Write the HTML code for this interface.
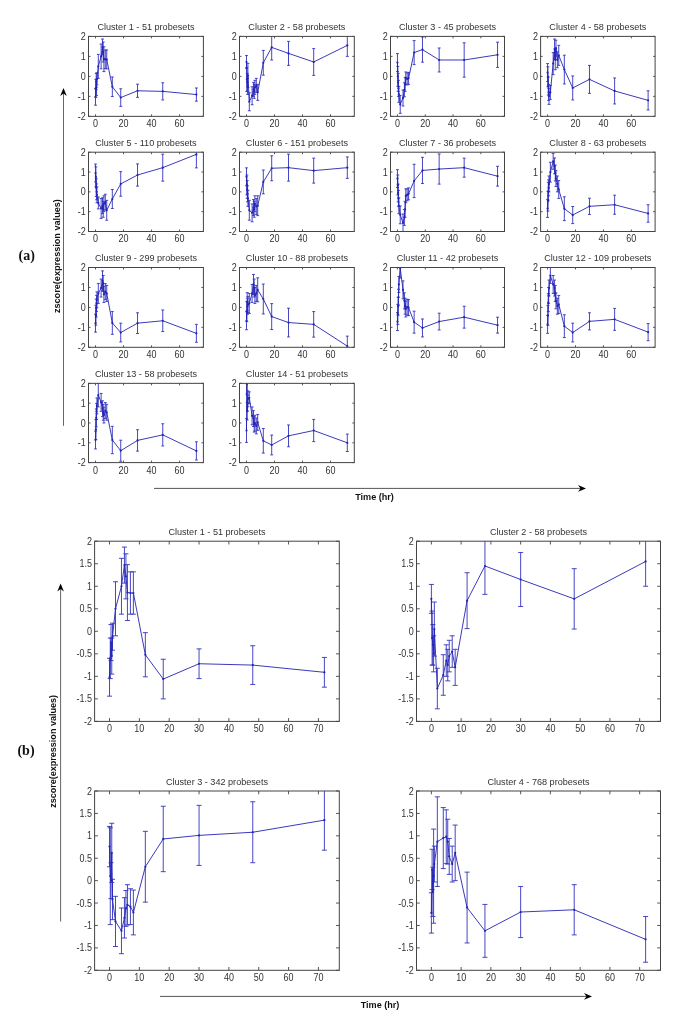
<!DOCTYPE html>
<html><head><meta charset="utf-8"><style>
html,body{margin:0;padding:0;background:#fff;}
svg{display:block;will-change:transform;}
text{font-family:"Liberation Sans",sans-serif;font-size:9.1px;fill:#333;}
text.t{font-size:9px;}
text.b{font-weight:bold;fill:#111;}
text.s{font-family:"Liberation Serif",serif;font-weight:bold;font-size:14px;fill:#111;}
</style></head><body>
<svg width="685" height="1027" viewBox="0 0 685 1027">
<rect width="685" height="1027" fill="#fff"/>
<clipPath id="c88_36"><rect x="88.5" y="36.4" width="114.9" height="79.95"/></clipPath>
<g clip-path="url(#c88_36)" stroke="#2424b4" stroke-width="0.9" fill="none">
<path d="M95.51 88.37V105.16M94.06 88.37H96.96M94.06 105.16H96.96M95.86 79.37V97.36M94.41 79.37H97.31M94.41 97.36H97.31M96.21 73.38V89.37M94.76 73.38H97.66M94.76 89.37H97.66M96.56 79.37V95.36M95.11 79.37H98.01M95.11 95.36H98.01M96.91 72.78V84.77M95.46 72.78H98.36M95.46 84.77H98.36M98.31 54.39V78.37M96.86 54.39H99.76M96.86 78.37H99.76M101.11 44V68.78M99.66 44H102.56M99.66 68.78H102.56M102.51 39V54.99M101.06 39H103.96M101.06 54.99H103.96M103.21 42V61.98M101.76 42H104.66M101.76 61.98H104.66M103.91 46.79V71.58M102.46 46.79H105.36M102.46 71.58H105.36M105.31 49.99V68.78M103.86 49.99H106.76M103.86 68.78H106.76M106.72 49.99V68.78M105.27 49.99H108.17M105.27 68.78H108.17M112.32 76.97V96.56M110.87 76.97H113.77M110.87 96.56H113.77M120.73 88.77V106.36M119.28 88.77H122.18M119.28 106.36H122.18M137.54 84.17V97.36M136.09 84.17H138.99M136.09 97.36H138.99M162.76 82.77V99.96M161.31 82.77H164.21M161.31 99.96H164.21M196.39 87.97V101.16M194.94 87.97H197.84M194.94 101.16H197.84" stroke="#3232c0" stroke-width="0.9"/>
<polyline points="95.51,96.76 95.86,88.37 96.21,81.37 96.56,87.37 96.91,78.77 98.31,66.38 101.11,56.39 102.51,46.99 103.21,51.99 103.91,59.19 105.31,59.39 106.72,59.39 112.32,86.77 120.73,97.56 137.54,90.77 162.76,91.37 196.39,94.56"/>
<path d="M95.51 96.76h0M95.86 88.37h0M96.21 81.37h0M96.56 87.37h0M96.91 78.77h0M98.31 66.38h0M101.11 56.39h0M102.51 46.99h0M103.21 51.99h0M103.91 59.19h0M105.31 59.39h0M106.72 59.39h0M112.32 86.77h0M120.73 97.56h0M137.54 90.77h0M162.76 91.37h0M196.39 94.56h0" stroke-width="2.2" stroke-linecap="round"/>
</g>
<path d="M95.51 116.35v-2M95.51 36.4v2M123.53 116.35v-2M123.53 36.4v2M151.55 116.35v-2M151.55 36.4v2M179.58 116.35v-2M179.58 36.4v2M88.5 116.35h2M203.4 116.35h-2M88.5 96.36h2M203.4 96.36h-2M88.5 76.38h2M203.4 76.38h-2M88.5 56.39h2M203.4 56.39h-2M88.5 36.4h2M203.4 36.4h-2" stroke="#444" stroke-width="0.9" fill="none"/>
<rect x="88.5" y="36.4" width="114.9" height="79.95" stroke="#444" stroke-width="1" fill="none"/>
<text transform="translate(95.51 127.25) scale(1 1.12)" text-anchor="middle" class="t">0</text>
<text transform="translate(123.53 127.25) scale(1 1.12)" text-anchor="middle" class="t">20</text>
<text transform="translate(151.55 127.25) scale(1 1.12)" text-anchor="middle" class="t">40</text>
<text transform="translate(179.58 127.25) scale(1 1.12)" text-anchor="middle" class="t">60</text>
<text transform="translate(85.8 119.9) scale(1 1.12)" text-anchor="end" class="t">-2</text>
<text transform="translate(85.8 99.91) scale(1 1.12)" text-anchor="end" class="t">-1</text>
<text transform="translate(85.8 79.92) scale(1 1.12)" text-anchor="end" class="t">0</text>
<text transform="translate(85.8 59.94) scale(1 1.12)" text-anchor="end" class="t">1</text>
<text transform="translate(85.8 39.95) scale(1 1.12)" text-anchor="end" class="t">2</text>
<text x="145.95" y="30.1" text-anchor="middle">Cluster 1 - 51 probesets</text>
<clipPath id="c239_36"><rect x="239.5" y="36.4" width="114.8" height="79.95"/></clipPath>
<g clip-path="url(#c239_36)" stroke="#2424b4" stroke-width="0.9" fill="none">
<path d="M246.5 55.59V68.38M245.05 55.59H247.95M245.05 68.38H247.95M246.85 67.38V91.37M245.4 67.38H248.3M245.4 91.37H248.3M247.2 73.38V91.37M245.75 73.38H248.65M245.75 91.37H248.65M247.55 78.37V94.36M246.1 78.37H249M246.1 94.36H249M247.9 63.38V87.37M246.45 63.38H249.35M246.45 87.37H249.35M249.3 92.76V110.75M247.85 92.76H250.75M247.85 110.75H250.75M252.1 86.77V104.76M250.65 86.77H253.55M250.65 104.76H253.55M253.5 82.37V96.36M252.05 82.37H254.95M252.05 96.36H254.95M254.2 84.37V98.36M252.75 84.37H255.65M252.75 98.36H255.65M254.9 80.37V94.36M253.45 80.37H256.35M253.45 94.36H256.35M256.3 78.37V92.36M254.85 78.37H257.75M254.85 92.36H257.75M257.7 84.37V100.36M256.25 84.37H259.15M256.25 100.36H259.15M263.3 50.39V75.18M261.85 50.39H264.75M261.85 75.18H264.75M271.7 34.8V59.99M270.25 34.8H273.15M270.25 59.99H273.15M288.5 41.4V65.38M287.05 41.4H289.95M287.05 65.38H289.95M313.7 48.59V75.38M312.25 48.59H315.15M312.25 75.38H315.15M347.3 34.4V56.39M345.85 34.4H348.75M345.85 56.39H348.75" stroke="#3232c0" stroke-width="0.9"/>
<polyline points="246.5,61.98 246.85,79.37 247.2,82.37 247.55,86.37 247.9,75.38 249.3,101.76 252.1,95.76 253.5,89.37 254.2,91.37 254.9,87.37 256.3,85.37 257.7,92.36 263.3,62.78 271.7,47.39 288.5,53.39 313.7,61.98 347.3,45.39"/>
<path d="M246.5 61.98h0M246.85 79.37h0M247.2 82.37h0M247.55 86.37h0M247.9 75.38h0M249.3 101.76h0M252.1 95.76h0M253.5 89.37h0M254.2 91.37h0M254.9 87.37h0M256.3 85.37h0M257.7 92.36h0M263.3 62.78h0M271.7 47.39h0M288.5 53.39h0M313.7 61.98h0M347.3 45.39h0" stroke-width="2.2" stroke-linecap="round"/>
</g>
<path d="M246.5 116.35v-2M246.5 36.4v2M274.5 116.35v-2M274.5 36.4v2M302.5 116.35v-2M302.5 36.4v2M330.5 116.35v-2M330.5 36.4v2M239.5 116.35h2M354.3 116.35h-2M239.5 96.36h2M354.3 96.36h-2M239.5 76.38h2M354.3 76.38h-2M239.5 56.39h2M354.3 56.39h-2M239.5 36.4h2M354.3 36.4h-2" stroke="#444" stroke-width="0.9" fill="none"/>
<rect x="239.5" y="36.4" width="114.8" height="79.95" stroke="#444" stroke-width="1" fill="none"/>
<text transform="translate(246.5 127.25) scale(1 1.12)" text-anchor="middle" class="t">0</text>
<text transform="translate(274.5 127.25) scale(1 1.12)" text-anchor="middle" class="t">20</text>
<text transform="translate(302.5 127.25) scale(1 1.12)" text-anchor="middle" class="t">40</text>
<text transform="translate(330.5 127.25) scale(1 1.12)" text-anchor="middle" class="t">60</text>
<text transform="translate(236.8 119.9) scale(1 1.12)" text-anchor="end" class="t">-2</text>
<text transform="translate(236.8 99.91) scale(1 1.12)" text-anchor="end" class="t">-1</text>
<text transform="translate(236.8 79.92) scale(1 1.12)" text-anchor="end" class="t">0</text>
<text transform="translate(236.8 59.94) scale(1 1.12)" text-anchor="end" class="t">1</text>
<text transform="translate(236.8 39.95) scale(1 1.12)" text-anchor="end" class="t">2</text>
<text x="296.9" y="30.1" text-anchor="middle">Cluster 2 - 58 probesets</text>
<clipPath id="c390_36"><rect x="390.5" y="36.4" width="114" height="79.95"/></clipPath>
<g clip-path="url(#c390_36)" stroke="#2424b4" stroke-width="0.9" fill="none">
<path d="M397.45 53.59V71.58M396 53.59H398.9M396 71.58H398.9M397.8 66.38V86.37M396.35 66.38H399.25M396.35 86.37H399.25M398.15 73.38V91.37M396.7 73.38H399.6M396.7 91.37H399.6M398.49 80.37V96.36M397.04 80.37H399.94M397.04 96.36H399.94M398.84 86.37V102.36M397.39 86.37H400.29M397.39 102.36H400.29M400.23 95.36V113.35M398.78 95.36H401.68M398.78 113.35H401.68M403.01 89.97V105.96M401.56 89.97H404.46M401.56 105.96H404.46M404.4 82.77V96.76M402.95 82.77H405.85M402.95 96.76H405.85M405.1 77.37V91.37M403.65 77.37H406.55M403.65 91.37H406.55M405.79 71.98V83.97M404.34 71.98H407.24M404.34 83.97H407.24M407.18 72.98V84.97M405.73 72.98H408.63M405.73 84.97H408.63M408.57 72.38V84.37M407.12 72.38H410.02M407.12 84.37H410.02M414.13 40.6V64.58M412.68 40.6H415.58M412.68 64.58H415.58M422.48 37V62.18M421.03 37H423.93M421.03 62.18H423.93M439.16 47.99V71.98M437.71 47.99H440.61M437.71 71.98H440.61M464.18 42.8V77.17M462.73 42.8H465.63M462.73 77.17H465.63M497.55 42.2V67.38M496.1 42.2H499M496.1 67.38H499" stroke="#3232c0" stroke-width="0.9"/>
<polyline points="397.45,62.58 397.8,76.38 398.15,82.37 398.49,88.37 398.84,94.36 400.23,104.36 403.01,97.96 404.4,89.77 405.1,84.37 405.79,77.97 407.18,78.97 408.57,78.37 414.13,52.59 422.48,49.59 439.16,59.99 464.18,59.99 497.55,54.79"/>
<path d="M397.45 62.58h0M397.8 76.38h0M398.15 82.37h0M398.49 88.37h0M398.84 94.36h0M400.23 104.36h0M403.01 97.96h0M404.4 89.77h0M405.1 84.37h0M405.79 77.97h0M407.18 78.97h0M408.57 78.37h0M414.13 52.59h0M422.48 49.59h0M439.16 59.99h0M464.18 59.99h0M497.55 54.79h0" stroke-width="2.2" stroke-linecap="round"/>
</g>
<path d="M397.45 116.35v-2M397.45 36.4v2M425.26 116.35v-2M425.26 36.4v2M453.06 116.35v-2M453.06 36.4v2M480.87 116.35v-2M480.87 36.4v2M390.5 116.35h2M504.5 116.35h-2M390.5 96.36h2M504.5 96.36h-2M390.5 76.38h2M504.5 76.38h-2M390.5 56.39h2M504.5 56.39h-2M390.5 36.4h2M504.5 36.4h-2" stroke="#444" stroke-width="0.9" fill="none"/>
<rect x="390.5" y="36.4" width="114" height="79.95" stroke="#444" stroke-width="1" fill="none"/>
<text transform="translate(397.45 127.25) scale(1 1.12)" text-anchor="middle" class="t">0</text>
<text transform="translate(425.26 127.25) scale(1 1.12)" text-anchor="middle" class="t">20</text>
<text transform="translate(453.06 127.25) scale(1 1.12)" text-anchor="middle" class="t">40</text>
<text transform="translate(480.87 127.25) scale(1 1.12)" text-anchor="middle" class="t">60</text>
<text transform="translate(387.8 119.9) scale(1 1.12)" text-anchor="end" class="t">-2</text>
<text transform="translate(387.8 99.91) scale(1 1.12)" text-anchor="end" class="t">-1</text>
<text transform="translate(387.8 79.92) scale(1 1.12)" text-anchor="end" class="t">0</text>
<text transform="translate(387.8 59.94) scale(1 1.12)" text-anchor="end" class="t">1</text>
<text transform="translate(387.8 39.95) scale(1 1.12)" text-anchor="end" class="t">2</text>
<text x="447.5" y="30.1" text-anchor="middle">Cluster 3 - 45 probesets</text>
<clipPath id="c540_36"><rect x="540.6" y="36.4" width="114.5" height="79.95"/></clipPath>
<g clip-path="url(#c540_36)" stroke="#2424b4" stroke-width="0.9" fill="none">
<path d="M547.58 63.58V81.57M546.13 63.58H549.03M546.13 81.57H549.03M547.93 66.78V86.77M546.48 66.78H549.38M546.48 86.77H549.38M548.28 77.17V95.16M546.83 77.17H549.73M546.83 95.16H549.73M548.63 84.37V100.36M547.18 84.37H550.08M547.18 100.36H550.08M548.98 88.37V104.36M547.53 88.37H550.43M547.53 104.36H550.43M550.37 85.37V99.36M548.92 85.37H551.82M548.92 99.36H551.82M553.17 52.59V74.58M551.72 52.59H554.62M551.72 74.58H554.62M554.56 39V58.99M553.11 39H556.01M553.11 58.99H556.01M555.26 49.79V69.78M553.81 49.79H556.71M553.81 69.78H556.71M555.96 40.2V56.19M554.51 40.2H557.41M554.51 56.19H557.41M557.36 51.79V67.78M555.91 51.79H558.81M555.91 67.78H558.81M558.75 45.39V65.38M557.3 45.39H560.2M557.3 65.38H560.2M564.34 55.19V83.97M562.89 55.19H565.79M562.89 83.97H565.79M572.72 75.98V99.96M571.27 75.98H574.17M571.27 99.96H574.17M589.47 65.38V93.36M588.02 65.38H590.92M588.02 93.36H590.92M614.61 77.97V103.96M613.16 77.97H616.06M613.16 103.96H616.06M648.12 90.77V109.95M646.67 90.77H649.57M646.67 109.95H649.57" stroke="#3232c0" stroke-width="0.9"/>
<polyline points="547.58,72.58 547.93,76.77 548.28,86.17 548.63,92.36 548.98,96.36 550.37,92.36 553.17,63.58 554.56,48.99 555.26,59.79 555.96,48.19 557.36,59.79 558.75,55.39 564.34,69.58 572.72,87.97 589.47,79.37 614.61,90.97 648.12,100.36"/>
<path d="M547.58 72.58h0M547.93 76.77h0M548.28 86.17h0M548.63 92.36h0M548.98 96.36h0M550.37 92.36h0M553.17 63.58h0M554.56 48.99h0M555.26 59.79h0M555.96 48.19h0M557.36 59.79h0M558.75 55.39h0M564.34 69.58h0M572.72 87.97h0M589.47 79.37h0M614.61 90.97h0M648.12 100.36h0" stroke-width="2.2" stroke-linecap="round"/>
</g>
<path d="M547.58 116.35v-2M547.58 36.4v2M575.51 116.35v-2M575.51 36.4v2M603.44 116.35v-2M603.44 36.4v2M631.36 116.35v-2M631.36 36.4v2M540.6 116.35h2M655.1 116.35h-2M540.6 96.36h2M655.1 96.36h-2M540.6 76.38h2M655.1 76.38h-2M540.6 56.39h2M655.1 56.39h-2M540.6 36.4h2M655.1 36.4h-2" stroke="#444" stroke-width="0.9" fill="none"/>
<rect x="540.6" y="36.4" width="114.5" height="79.95" stroke="#444" stroke-width="1" fill="none"/>
<text transform="translate(547.58 127.25) scale(1 1.12)" text-anchor="middle" class="t">0</text>
<text transform="translate(575.51 127.25) scale(1 1.12)" text-anchor="middle" class="t">20</text>
<text transform="translate(603.44 127.25) scale(1 1.12)" text-anchor="middle" class="t">40</text>
<text transform="translate(631.36 127.25) scale(1 1.12)" text-anchor="middle" class="t">60</text>
<text transform="translate(537.9 119.9) scale(1 1.12)" text-anchor="end" class="t">-2</text>
<text transform="translate(537.9 99.91) scale(1 1.12)" text-anchor="end" class="t">-1</text>
<text transform="translate(537.9 79.92) scale(1 1.12)" text-anchor="end" class="t">0</text>
<text transform="translate(537.9 59.94) scale(1 1.12)" text-anchor="end" class="t">1</text>
<text transform="translate(537.9 39.95) scale(1 1.12)" text-anchor="end" class="t">2</text>
<text x="597.85" y="30.1" text-anchor="middle">Cluster 4 - 58 probesets</text>
<clipPath id="c88_152"><rect x="88.5" y="152.2" width="114.9" height="79.3"/></clipPath>
<g clip-path="url(#c88_152)" stroke="#2424b4" stroke-width="0.9" fill="none">
<path d="M95.51 164.09V181.94M94.06 164.09H96.96M94.06 181.94H96.96M95.86 166.87V186.7M94.41 166.87H97.31M94.41 186.7H97.31M96.21 178.77V196.61M94.76 178.77H97.66M94.76 196.61H97.66M96.56 183.92V199.78M95.11 183.92H98.01M95.11 199.78H98.01M96.91 186.89V202.75M95.46 186.89H98.36M95.46 202.75H98.36M98.31 197V208.9M96.86 197H99.76M96.86 208.9H99.76M101.11 198.59V218.42M99.66 198.59H102.56M99.66 218.42H102.56M102.51 197.8V213.66M101.06 197.8H103.96M101.06 213.66H103.96M103.21 201.37V217.23M101.76 201.37H104.66M101.76 217.23H104.66M103.91 195.81V211.67M102.46 195.81H105.36M102.46 211.67H105.36M105.31 194.23V210.09M103.86 194.23H106.76M103.86 210.09H106.76M106.72 200.37V220.2M105.27 200.37H108.17M105.27 220.2H108.17M112.32 189.47V208.5M110.87 189.47H113.77M110.87 208.5H113.77M120.73 171.63V196.21M119.28 171.63H122.18M119.28 196.21H122.18M137.54 163.9V186.1M136.09 163.9H138.99M136.09 186.1H138.99M162.76 154.18V181.14M161.31 154.18H164.21M161.31 181.14H164.21M196.39 140.9V167.86M194.94 140.9H197.84M194.94 167.86H197.84" stroke="#3232c0" stroke-width="0.9"/>
<polyline points="95.51,173.02 95.86,176.78 96.21,187.69 96.56,191.85 96.91,194.82 98.31,202.95 101.11,208.5 102.51,205.73 103.21,209.3 103.91,203.75 105.31,202.16 106.72,210.29 112.32,198.99 120.73,183.92 137.54,175 162.76,167.66 196.39,154.38"/>
<path d="M95.51 173.02h0M95.86 176.78h0M96.21 187.69h0M96.56 191.85h0M96.91 194.82h0M98.31 202.95h0M101.11 208.5h0M102.51 205.73h0M103.21 209.3h0M103.91 203.75h0M105.31 202.16h0M106.72 210.29h0M112.32 198.99h0M120.73 183.92h0M137.54 175h0M162.76 167.66h0M196.39 154.38h0" stroke-width="2.2" stroke-linecap="round"/>
</g>
<path d="M95.51 231.5v-2M95.51 152.2v2M123.53 231.5v-2M123.53 152.2v2M151.55 231.5v-2M151.55 152.2v2M179.58 231.5v-2M179.58 152.2v2M88.5 231.5h2M203.4 231.5h-2M88.5 211.67h2M203.4 211.67h-2M88.5 191.85h2M203.4 191.85h-2M88.5 172.02h2M203.4 172.02h-2M88.5 152.2h2M203.4 152.2h-2" stroke="#444" stroke-width="0.9" fill="none"/>
<rect x="88.5" y="152.2" width="114.9" height="79.3" stroke="#444" stroke-width="1" fill="none"/>
<text transform="translate(95.51 242.4) scale(1 1.12)" text-anchor="middle" class="t">0</text>
<text transform="translate(123.53 242.4) scale(1 1.12)" text-anchor="middle" class="t">20</text>
<text transform="translate(151.55 242.4) scale(1 1.12)" text-anchor="middle" class="t">40</text>
<text transform="translate(179.58 242.4) scale(1 1.12)" text-anchor="middle" class="t">60</text>
<text transform="translate(85.8 235.05) scale(1 1.12)" text-anchor="end" class="t">-2</text>
<text transform="translate(85.8 215.22) scale(1 1.12)" text-anchor="end" class="t">-1</text>
<text transform="translate(85.8 195.4) scale(1 1.12)" text-anchor="end" class="t">0</text>
<text transform="translate(85.8 175.57) scale(1 1.12)" text-anchor="end" class="t">1</text>
<text transform="translate(85.8 155.75) scale(1 1.12)" text-anchor="end" class="t">2</text>
<text x="145.95" y="145.9" text-anchor="middle">Cluster 5 - 110 probesets</text>
<clipPath id="c239_152"><rect x="239.5" y="152.2" width="114.8" height="79.3"/></clipPath>
<g clip-path="url(#c239_152)" stroke="#2424b4" stroke-width="0.9" fill="none">
<path d="M246.5 167.86V185.7M245.05 167.86H247.95M245.05 185.7H247.95M246.85 175V194.82M245.4 175H248.3M245.4 194.82H248.3M247.2 180.55V198.39M245.75 180.55H248.65M245.75 198.39H248.65M247.55 185.9V201.76M246.1 185.9H249M246.1 201.76H249M247.9 190.46V206.32M246.45 190.46H249.35M246.45 206.32H249.35M249.3 200.37V220.2M247.85 200.37H250.75M247.85 220.2H250.75M252.1 203.94V221.79M250.65 203.94H253.55M250.65 221.79H253.55M253.5 199.58V215.44M252.05 199.58H254.95M252.05 215.44H254.95M254.2 201.37V217.23M252.75 201.37H255.65M252.75 217.23H255.65M254.9 195.81V211.67M253.45 195.81H256.35M253.45 211.67H256.35M256.3 198.59V214.45M254.85 198.59H257.75M254.85 214.45H257.75M257.7 195.81V215.64M256.25 195.81H259.15M256.25 215.64H259.15M263.3 170.04V193.83M261.85 170.04H264.75M261.85 193.83H264.75M271.7 155.77V180.75M270.25 155.77H273.15M270.25 180.75H273.15M288.5 154.18V181.14M287.05 154.18H289.95M287.05 181.14H289.95M313.7 158.15V183.13M312.25 158.15H315.15M312.25 183.13H315.15M347.3 156.96V178.37M345.85 156.96H348.75M345.85 178.37H348.75" stroke="#3232c0" stroke-width="0.9"/>
<polyline points="246.5,176.78 246.85,184.91 247.2,189.47 247.55,193.83 247.9,198.39 249.3,210.29 252.1,212.86 253.5,207.51 254.2,209.3 254.9,203.75 256.3,206.52 257.7,205.73 263.3,181.94 271.7,168.26 288.5,167.66 313.7,170.64 347.3,167.66"/>
<path d="M246.5 176.78h0M246.85 184.91h0M247.2 189.47h0M247.55 193.83h0M247.9 198.39h0M249.3 210.29h0M252.1 212.86h0M253.5 207.51h0M254.2 209.3h0M254.9 203.75h0M256.3 206.52h0M257.7 205.73h0M263.3 181.94h0M271.7 168.26h0M288.5 167.66h0M313.7 170.64h0M347.3 167.66h0" stroke-width="2.2" stroke-linecap="round"/>
</g>
<path d="M246.5 231.5v-2M246.5 152.2v2M274.5 231.5v-2M274.5 152.2v2M302.5 231.5v-2M302.5 152.2v2M330.5 231.5v-2M330.5 152.2v2M239.5 231.5h2M354.3 231.5h-2M239.5 211.67h2M354.3 211.67h-2M239.5 191.85h2M354.3 191.85h-2M239.5 172.02h2M354.3 172.02h-2M239.5 152.2h2M354.3 152.2h-2" stroke="#444" stroke-width="0.9" fill="none"/>
<rect x="239.5" y="152.2" width="114.8" height="79.3" stroke="#444" stroke-width="1" fill="none"/>
<text transform="translate(246.5 242.4) scale(1 1.12)" text-anchor="middle" class="t">0</text>
<text transform="translate(274.5 242.4) scale(1 1.12)" text-anchor="middle" class="t">20</text>
<text transform="translate(302.5 242.4) scale(1 1.12)" text-anchor="middle" class="t">40</text>
<text transform="translate(330.5 242.4) scale(1 1.12)" text-anchor="middle" class="t">60</text>
<text transform="translate(236.8 235.05) scale(1 1.12)" text-anchor="end" class="t">-2</text>
<text transform="translate(236.8 215.22) scale(1 1.12)" text-anchor="end" class="t">-1</text>
<text transform="translate(236.8 195.4) scale(1 1.12)" text-anchor="end" class="t">0</text>
<text transform="translate(236.8 175.57) scale(1 1.12)" text-anchor="end" class="t">1</text>
<text transform="translate(236.8 155.75) scale(1 1.12)" text-anchor="end" class="t">2</text>
<text x="296.9" y="145.9" text-anchor="middle">Cluster 6 - 151 probesets</text>
<clipPath id="c390_152"><rect x="390.5" y="152.2" width="114" height="79.3"/></clipPath>
<g clip-path="url(#c390_152)" stroke="#2424b4" stroke-width="0.9" fill="none">
<path d="M397.45 169.65V187.49M396 169.65H398.9M396 187.49H398.9M397.8 175V194.82M396.35 175H399.25M396.35 194.82H399.25M398.15 184.12V201.96M396.7 184.12H399.6M396.7 201.96H399.6M398.49 190.46V206.32M397.04 190.46H399.94M397.04 206.32H399.94M398.84 197.8V213.66M397.39 197.8H400.29M397.39 213.66H400.29M400.23 205.93V223.77M398.78 205.93H401.68M398.78 223.77H401.68M403.01 214.05V231.9M401.56 214.05H404.46M401.56 231.9H404.46M404.4 209.49V225.35M402.95 209.49H405.85M402.95 225.35H405.85M405.1 201.37V217.23M403.65 201.37H406.55M403.65 217.23H406.55M405.79 188.88V202.75M404.34 188.88H407.24M404.34 202.75H407.24M407.18 188.88V200.77M405.73 188.88H408.63M405.73 200.77H408.63M408.57 187.88V199.78M407.12 187.88H410.02M407.12 199.78H410.02M414.13 164.29V197.6M412.68 164.29H415.58M412.68 197.6H415.58M422.48 157.35V183.52M421.03 157.35H423.93M421.03 183.52H423.93M439.16 153.98V184.12M437.71 153.98H440.61M437.71 184.12H440.61M464.18 158.15V177.18M462.73 158.15H465.63M462.73 177.18H465.63M497.55 166.28V186.1M496.1 166.28H499M496.1 186.1H499" stroke="#3232c0" stroke-width="0.9"/>
<polyline points="397.45,178.57 397.8,184.91 398.15,193.04 398.49,198.39 398.84,205.73 400.23,214.85 403.01,222.98 404.4,217.42 405.1,209.3 405.79,195.81 407.18,194.82 408.57,193.83 414.13,180.95 422.48,170.44 439.16,169.05 464.18,167.66 497.55,176.19"/>
<path d="M397.45 178.57h0M397.8 184.91h0M398.15 193.04h0M398.49 198.39h0M398.84 205.73h0M400.23 214.85h0M403.01 222.98h0M404.4 217.42h0M405.1 209.3h0M405.79 195.81h0M407.18 194.82h0M408.57 193.83h0M414.13 180.95h0M422.48 170.44h0M439.16 169.05h0M464.18 167.66h0M497.55 176.19h0" stroke-width="2.2" stroke-linecap="round"/>
</g>
<path d="M397.45 231.5v-2M397.45 152.2v2M425.26 231.5v-2M425.26 152.2v2M453.06 231.5v-2M453.06 152.2v2M480.87 231.5v-2M480.87 152.2v2M390.5 231.5h2M504.5 231.5h-2M390.5 211.67h2M504.5 211.67h-2M390.5 191.85h2M504.5 191.85h-2M390.5 172.02h2M504.5 172.02h-2M390.5 152.2h2M504.5 152.2h-2" stroke="#444" stroke-width="0.9" fill="none"/>
<rect x="390.5" y="152.2" width="114" height="79.3" stroke="#444" stroke-width="1" fill="none"/>
<text transform="translate(397.45 242.4) scale(1 1.12)" text-anchor="middle" class="t">0</text>
<text transform="translate(425.26 242.4) scale(1 1.12)" text-anchor="middle" class="t">20</text>
<text transform="translate(453.06 242.4) scale(1 1.12)" text-anchor="middle" class="t">40</text>
<text transform="translate(480.87 242.4) scale(1 1.12)" text-anchor="middle" class="t">60</text>
<text transform="translate(387.8 235.05) scale(1 1.12)" text-anchor="end" class="t">-2</text>
<text transform="translate(387.8 215.22) scale(1 1.12)" text-anchor="end" class="t">-1</text>
<text transform="translate(387.8 195.4) scale(1 1.12)" text-anchor="end" class="t">0</text>
<text transform="translate(387.8 175.57) scale(1 1.12)" text-anchor="end" class="t">1</text>
<text transform="translate(387.8 155.75) scale(1 1.12)" text-anchor="end" class="t">2</text>
<text x="447.5" y="145.9" text-anchor="middle">Cluster 7 - 36 probesets</text>
<clipPath id="c540_152"><rect x="540.6" y="152.2" width="114.5" height="79.3"/></clipPath>
<g clip-path="url(#c540_152)" stroke="#2424b4" stroke-width="0.9" fill="none">
<path d="M547.58 199.58V217.42M546.13 199.58H549.03M546.13 217.42H549.03M547.93 191.26V211.08M546.48 191.26H549.38M546.48 211.08H549.38M548.28 182.33V200.18M546.83 182.33H549.73M546.83 200.18H549.73M548.63 179.95V195.81M547.18 179.95H550.08M547.18 195.81H550.08M548.98 175.99V191.85M547.53 175.99H550.43M547.53 191.85H550.43M550.37 162.31V182.14M548.92 162.31H551.82M548.92 182.14H551.82M553.17 153.39V169.25M551.72 153.39H554.62M551.72 169.25H554.62M554.56 157.95V173.81M553.11 157.95H556.01M553.11 173.81H556.01M555.26 165.09V180.95M553.81 165.09H556.71M553.81 180.95H556.71M555.96 170.64V186.5M554.51 170.64H557.41M554.51 186.5H557.41M557.36 175.99V191.85M555.91 175.99H558.81M555.91 191.85H558.81M558.75 180.55V198.39M557.3 180.55H560.2M557.3 198.39H560.2M564.34 196.81V220.6M562.89 196.81H565.79M562.89 220.6H565.79M572.72 206.52V223.57M571.27 206.52H574.17M571.27 223.57H574.17M589.47 198.19V214.45M588.02 198.19H590.92M588.02 214.45H590.92M614.61 195.22V214.25M613.16 195.22H616.06M613.16 214.25H616.06M648.12 204.74V222.18M646.67 204.74H649.57M646.67 222.18H649.57" stroke="#3232c0" stroke-width="0.9"/>
<polyline points="547.58,208.5 547.93,201.17 548.28,191.26 548.63,187.88 548.98,183.92 550.37,172.22 553.17,161.32 554.56,165.88 555.26,173.02 555.96,178.57 557.36,183.92 558.75,189.47 564.34,208.7 572.72,215.05 589.47,206.32 614.61,204.74 648.12,213.46"/>
<path d="M547.58 208.5h0M547.93 201.17h0M548.28 191.26h0M548.63 187.88h0M548.98 183.92h0M550.37 172.22h0M553.17 161.32h0M554.56 165.88h0M555.26 173.02h0M555.96 178.57h0M557.36 183.92h0M558.75 189.47h0M564.34 208.7h0M572.72 215.05h0M589.47 206.32h0M614.61 204.74h0M648.12 213.46h0" stroke-width="2.2" stroke-linecap="round"/>
</g>
<path d="M547.58 231.5v-2M547.58 152.2v2M575.51 231.5v-2M575.51 152.2v2M603.44 231.5v-2M603.44 152.2v2M631.36 231.5v-2M631.36 152.2v2M540.6 231.5h2M655.1 231.5h-2M540.6 211.67h2M655.1 211.67h-2M540.6 191.85h2M655.1 191.85h-2M540.6 172.02h2M655.1 172.02h-2M540.6 152.2h2M655.1 152.2h-2" stroke="#444" stroke-width="0.9" fill="none"/>
<rect x="540.6" y="152.2" width="114.5" height="79.3" stroke="#444" stroke-width="1" fill="none"/>
<text transform="translate(547.58 242.4) scale(1 1.12)" text-anchor="middle" class="t">0</text>
<text transform="translate(575.51 242.4) scale(1 1.12)" text-anchor="middle" class="t">20</text>
<text transform="translate(603.44 242.4) scale(1 1.12)" text-anchor="middle" class="t">40</text>
<text transform="translate(631.36 242.4) scale(1 1.12)" text-anchor="middle" class="t">60</text>
<text transform="translate(537.9 235.05) scale(1 1.12)" text-anchor="end" class="t">-2</text>
<text transform="translate(537.9 215.22) scale(1 1.12)" text-anchor="end" class="t">-1</text>
<text transform="translate(537.9 195.4) scale(1 1.12)" text-anchor="end" class="t">0</text>
<text transform="translate(537.9 175.57) scale(1 1.12)" text-anchor="end" class="t">1</text>
<text transform="translate(537.9 155.75) scale(1 1.12)" text-anchor="end" class="t">2</text>
<text x="597.85" y="145.9" text-anchor="middle">Cluster 8 - 63 probesets</text>
<clipPath id="c88_267"><rect x="88.5" y="267.5" width="114.9" height="79.8"/></clipPath>
<g clip-path="url(#c88_267)" stroke="#2424b4" stroke-width="0.9" fill="none">
<path d="M95.51 314.18V332.14M94.06 314.18H96.96M94.06 332.14H96.96M95.86 305.21V325.16M94.41 305.21H97.31M94.41 325.16H97.31M96.21 299.02V316.98M94.76 299.02H97.66M94.76 316.98H97.66M96.56 295.43V311.39M95.11 295.43H98.01M95.11 311.39H98.01M96.91 291.84V307.8M95.46 291.84H98.36M95.46 307.8H98.36M98.31 283.46V303.41M96.86 283.46H99.76M96.86 303.41H99.76M101.11 279.07V297.03M99.66 279.07H102.56M99.66 297.03H102.56M102.51 270.89V290.84M101.06 270.89H103.96M101.06 290.84H103.96M103.21 275.48V291.44M101.76 275.48H104.66M101.76 291.44H104.66M103.91 286.45V302.41M102.46 286.45H105.36M102.46 302.41H105.36M105.31 283.66V299.62M103.86 283.66H106.76M103.86 299.62H106.76M106.72 285.45V301.42M105.27 285.45H108.17M105.27 301.42H108.17M112.32 311.59V334.33M110.87 311.59H113.77M110.87 334.33H113.77M120.73 323.16V341.91M119.28 323.16H122.18M119.28 341.91H122.18M137.54 312.79V333.53M136.09 312.79H138.99M136.09 333.53H138.99M162.76 309.99V331.54M161.31 309.99H164.21M161.31 331.54H164.21M196.39 324.36V342.31M194.94 324.36H197.84M194.94 342.31H197.84" stroke="#3232c0" stroke-width="0.9"/>
<polyline points="95.51,323.16 95.86,315.18 96.21,308 96.56,303.41 96.91,299.82 98.31,293.44 101.11,288.05 102.51,280.87 103.21,283.46 103.91,294.43 105.31,291.64 106.72,293.44 112.32,322.96 120.73,332.54 137.54,323.16 162.76,320.77 196.39,333.33"/>
<path d="M95.51 323.16h0M95.86 315.18h0M96.21 308h0M96.56 303.41h0M96.91 299.82h0M98.31 293.44h0M101.11 288.05h0M102.51 280.87h0M103.21 283.46h0M103.91 294.43h0M105.31 291.64h0M106.72 293.44h0M112.32 322.96h0M120.73 332.54h0M137.54 323.16h0M162.76 320.77h0M196.39 333.33h0" stroke-width="2.2" stroke-linecap="round"/>
</g>
<path d="M95.51 347.3v-2M95.51 267.5v2M123.53 347.3v-2M123.53 267.5v2M151.55 347.3v-2M151.55 267.5v2M179.58 347.3v-2M179.58 267.5v2M88.5 347.3h2M203.4 347.3h-2M88.5 327.35h2M203.4 327.35h-2M88.5 307.4h2M203.4 307.4h-2M88.5 287.45h2M203.4 287.45h-2M88.5 267.5h2M203.4 267.5h-2" stroke="#444" stroke-width="0.9" fill="none"/>
<rect x="88.5" y="267.5" width="114.9" height="79.8" stroke="#444" stroke-width="1" fill="none"/>
<text transform="translate(95.51 358.2) scale(1 1.12)" text-anchor="middle" class="t">0</text>
<text transform="translate(123.53 358.2) scale(1 1.12)" text-anchor="middle" class="t">20</text>
<text transform="translate(151.55 358.2) scale(1 1.12)" text-anchor="middle" class="t">40</text>
<text transform="translate(179.58 358.2) scale(1 1.12)" text-anchor="middle" class="t">60</text>
<text transform="translate(85.8 350.85) scale(1 1.12)" text-anchor="end" class="t">-2</text>
<text transform="translate(85.8 330.9) scale(1 1.12)" text-anchor="end" class="t">-1</text>
<text transform="translate(85.8 310.95) scale(1 1.12)" text-anchor="end" class="t">0</text>
<text transform="translate(85.8 291) scale(1 1.12)" text-anchor="end" class="t">1</text>
<text transform="translate(85.8 271.05) scale(1 1.12)" text-anchor="end" class="t">2</text>
<text x="145.95" y="261.2" text-anchor="middle">Cluster 9 - 299 probesets</text>
<clipPath id="c239_267"><rect x="239.5" y="267.5" width="114.8" height="79.8"/></clipPath>
<g clip-path="url(#c239_267)" stroke="#2424b4" stroke-width="0.9" fill="none">
<path d="M246.5 311.79V329.74M245.05 311.79H247.95M245.05 329.74H247.95M246.85 301.61V321.56M245.4 301.61H248.3M245.4 321.56H248.3M247.2 292.64V310.59M245.75 292.64H248.65M245.75 310.59H248.65M247.55 298.22V314.18M246.1 298.22H249M246.1 314.18H249M247.9 296.43V312.39M246.45 296.43H249.35M246.45 312.39H249.35M249.3 293.44V313.38M247.85 293.44H250.75M247.85 313.38H250.75M252.1 284.46V302.41M250.65 284.46H253.55M250.65 302.41H253.55M253.5 274.48V294.43M252.05 274.48H254.95M252.05 294.43H254.95M254.2 279.07V297.03M252.75 279.07H255.65M252.75 297.03H255.65M254.9 287.45V303.41M253.45 287.45H256.35M253.45 303.41H256.35M256.3 285.45V301.42M254.85 285.45H257.75M254.85 301.42H257.75M257.7 277.87V301.81M256.25 277.87H259.15M256.25 301.81H259.15M263.3 284.06V313.98M261.85 284.06H264.75M261.85 313.98H264.75M271.7 303.61V329.54M270.25 303.61H273.15M270.25 329.54H273.15M288.5 308.2V336.93M287.05 308.2H289.95M287.05 336.93H289.95M313.7 311.59V337.13M312.25 311.59H315.15M312.25 337.13H315.15M347.3 336.13V356.08M345.85 336.13H348.75M345.85 356.08H348.75" stroke="#3232c0" stroke-width="0.9"/>
<polyline points="246.5,320.77 246.85,311.59 247.2,301.61 247.55,306.2 247.9,304.41 249.3,303.41 252.1,293.44 253.5,284.46 254.2,288.05 254.9,295.43 256.3,293.44 257.7,289.84 263.3,299.02 271.7,316.58 288.5,322.56 313.7,324.36 347.3,346.1"/>
<path d="M246.5 320.77h0M246.85 311.59h0M247.2 301.61h0M247.55 306.2h0M247.9 304.41h0M249.3 303.41h0M252.1 293.44h0M253.5 284.46h0M254.2 288.05h0M254.9 295.43h0M256.3 293.44h0M257.7 289.84h0M263.3 299.02h0M271.7 316.58h0M288.5 322.56h0M313.7 324.36h0M347.3 346.1h0" stroke-width="2.2" stroke-linecap="round"/>
</g>
<path d="M246.5 347.3v-2M246.5 267.5v2M274.5 347.3v-2M274.5 267.5v2M302.5 347.3v-2M302.5 267.5v2M330.5 347.3v-2M330.5 267.5v2M239.5 347.3h2M354.3 347.3h-2M239.5 327.35h2M354.3 327.35h-2M239.5 307.4h2M354.3 307.4h-2M239.5 287.45h2M354.3 287.45h-2M239.5 267.5h2M354.3 267.5h-2" stroke="#444" stroke-width="0.9" fill="none"/>
<rect x="239.5" y="267.5" width="114.8" height="79.8" stroke="#444" stroke-width="1" fill="none"/>
<text transform="translate(246.5 358.2) scale(1 1.12)" text-anchor="middle" class="t">0</text>
<text transform="translate(274.5 358.2) scale(1 1.12)" text-anchor="middle" class="t">20</text>
<text transform="translate(302.5 358.2) scale(1 1.12)" text-anchor="middle" class="t">40</text>
<text transform="translate(330.5 358.2) scale(1 1.12)" text-anchor="middle" class="t">60</text>
<text transform="translate(236.8 350.85) scale(1 1.12)" text-anchor="end" class="t">-2</text>
<text transform="translate(236.8 330.9) scale(1 1.12)" text-anchor="end" class="t">-1</text>
<text transform="translate(236.8 310.95) scale(1 1.12)" text-anchor="end" class="t">0</text>
<text transform="translate(236.8 291) scale(1 1.12)" text-anchor="end" class="t">1</text>
<text transform="translate(236.8 271.05) scale(1 1.12)" text-anchor="end" class="t">2</text>
<text x="296.9" y="261.2" text-anchor="middle">Cluster 10 - 88 probesets</text>
<clipPath id="c390_267"><rect x="390.5" y="267.5" width="114" height="79.8"/></clipPath>
<g clip-path="url(#c390_267)" stroke="#2424b4" stroke-width="0.9" fill="none">
<path d="M397.45 312.59V330.54M396 312.59H398.9M396 330.54H398.9M397.8 304.41V324.36M396.35 304.41H399.25M396.35 324.36H399.25M398.15 297.23V315.18M396.7 297.23H399.6M396.7 315.18H399.6M398.49 289.25V305.21M397.04 289.25H399.94M397.04 305.21H399.94M398.84 276.48V292.44M397.39 276.48H400.29M397.39 292.44H400.29M400.23 258.12V278.07M398.78 258.12H401.68M398.78 278.07H401.68M403.01 280.87V298.82M401.56 280.87H404.46M401.56 298.82H404.46M404.4 292.84V308.8M402.95 292.84H405.85M402.95 308.8H405.85M405.1 298.22V314.18M403.65 298.22H406.55M403.65 314.18H406.55M405.79 301.02V316.98M404.34 301.02H407.24M404.34 316.98H407.24M407.18 299.22V315.18M405.73 299.22H408.63M405.73 315.18H408.63M408.57 299.62V315.58M407.12 299.62H410.02M407.12 315.58H410.02M414.13 311.19V333.14M412.68 311.19H415.58M412.68 333.14H415.58M422.48 318.97V336.93M421.03 318.97H423.93M421.03 336.93H423.93M439.16 313.19V329.94M437.71 313.19H440.61M437.71 329.94H440.61M464.18 306.2V328.15M462.73 306.2H465.63M462.73 328.15H465.63M497.55 317.18V333.14M496.1 317.18H499M496.1 333.14H499" stroke="#3232c0" stroke-width="0.9"/>
<polyline points="397.45,321.56 397.8,314.38 398.15,306.2 398.49,297.23 398.84,284.46 400.23,268.1 403.01,289.84 404.4,300.82 405.1,306.2 405.79,309 407.18,307.2 408.57,307.6 414.13,322.16 422.48,327.95 439.16,321.56 464.18,317.18 497.55,325.16"/>
<path d="M397.45 321.56h0M397.8 314.38h0M398.15 306.2h0M398.49 297.23h0M398.84 284.46h0M400.23 268.1h0M403.01 289.84h0M404.4 300.82h0M405.1 306.2h0M405.79 309h0M407.18 307.2h0M408.57 307.6h0M414.13 322.16h0M422.48 327.95h0M439.16 321.56h0M464.18 317.18h0M497.55 325.16h0" stroke-width="2.2" stroke-linecap="round"/>
</g>
<path d="M397.45 347.3v-2M397.45 267.5v2M425.26 347.3v-2M425.26 267.5v2M453.06 347.3v-2M453.06 267.5v2M480.87 347.3v-2M480.87 267.5v2M390.5 347.3h2M504.5 347.3h-2M390.5 327.35h2M504.5 327.35h-2M390.5 307.4h2M504.5 307.4h-2M390.5 287.45h2M504.5 287.45h-2M390.5 267.5h2M504.5 267.5h-2" stroke="#444" stroke-width="0.9" fill="none"/>
<rect x="390.5" y="267.5" width="114" height="79.8" stroke="#444" stroke-width="1" fill="none"/>
<text transform="translate(397.45 358.2) scale(1 1.12)" text-anchor="middle" class="t">0</text>
<text transform="translate(425.26 358.2) scale(1 1.12)" text-anchor="middle" class="t">20</text>
<text transform="translate(453.06 358.2) scale(1 1.12)" text-anchor="middle" class="t">40</text>
<text transform="translate(480.87 358.2) scale(1 1.12)" text-anchor="middle" class="t">60</text>
<text transform="translate(387.8 350.85) scale(1 1.12)" text-anchor="end" class="t">-2</text>
<text transform="translate(387.8 330.9) scale(1 1.12)" text-anchor="end" class="t">-1</text>
<text transform="translate(387.8 310.95) scale(1 1.12)" text-anchor="end" class="t">0</text>
<text transform="translate(387.8 291) scale(1 1.12)" text-anchor="end" class="t">1</text>
<text transform="translate(387.8 271.05) scale(1 1.12)" text-anchor="end" class="t">2</text>
<text x="447.5" y="261.2" text-anchor="middle">Cluster 11 - 42 probesets</text>
<clipPath id="c540_267"><rect x="540.6" y="267.5" width="114.5" height="79.8"/></clipPath>
<g clip-path="url(#c540_267)" stroke="#2424b4" stroke-width="0.9" fill="none">
<path d="M547.58 315.38V333.33M546.13 315.38H549.03M546.13 333.33H549.03M547.93 305.4V325.36M546.48 305.4H549.38M546.48 325.36H549.38M548.28 293.63V311.59M546.83 293.63H549.73M546.83 311.59H549.73M548.63 287.45V303.41M547.18 287.45H550.08M547.18 303.41H550.08M548.98 280.07V296.03M547.53 280.07H550.43M547.53 296.03H550.43M550.37 267.5V283.46M548.92 267.5H551.82M548.92 283.46H551.82M553.17 275.48V293.44M551.72 275.48H554.62M551.72 293.44H554.62M554.56 280.07V296.03M553.11 280.07H556.01M553.11 296.03H556.01M555.26 285.45V301.42M553.81 285.45H556.71M553.81 301.42H556.71M555.96 292.84V308.8M554.51 292.84H557.41M554.51 308.8H557.41M557.36 298.22V314.18M555.91 298.22H558.81M555.91 314.18H558.81M558.75 295.43V313.38M557.3 295.43H560.2M557.3 313.38H560.2M564.34 314.78V337.52M562.89 314.78H565.79M562.89 337.52H565.79M572.72 323.16V341.91M571.27 323.16H574.17M571.27 341.91H574.17M589.47 312.79V329.94M588.02 312.79H590.92M588.02 329.94H590.92M614.61 308.4V330.34M613.16 308.4H616.06M613.16 330.34H616.06M648.12 323.56V340.72M646.67 323.56H649.57M646.67 340.72H649.57" stroke="#3232c0" stroke-width="0.9"/>
<polyline points="547.58,324.36 547.93,315.38 548.28,302.61 548.63,295.43 548.98,288.05 550.37,275.48 553.17,284.46 554.56,288.05 555.26,293.44 555.96,300.82 557.36,306.2 558.75,304.41 564.34,326.15 572.72,332.54 589.47,321.37 614.61,319.37 648.12,332.14"/>
<path d="M547.58 324.36h0M547.93 315.38h0M548.28 302.61h0M548.63 295.43h0M548.98 288.05h0M550.37 275.48h0M553.17 284.46h0M554.56 288.05h0M555.26 293.44h0M555.96 300.82h0M557.36 306.2h0M558.75 304.41h0M564.34 326.15h0M572.72 332.54h0M589.47 321.37h0M614.61 319.37h0M648.12 332.14h0" stroke-width="2.2" stroke-linecap="round"/>
</g>
<path d="M547.58 347.3v-2M547.58 267.5v2M575.51 347.3v-2M575.51 267.5v2M603.44 347.3v-2M603.44 267.5v2M631.36 347.3v-2M631.36 267.5v2M540.6 347.3h2M655.1 347.3h-2M540.6 327.35h2M655.1 327.35h-2M540.6 307.4h2M655.1 307.4h-2M540.6 287.45h2M655.1 287.45h-2M540.6 267.5h2M655.1 267.5h-2" stroke="#444" stroke-width="0.9" fill="none"/>
<rect x="540.6" y="267.5" width="114.5" height="79.8" stroke="#444" stroke-width="1" fill="none"/>
<text transform="translate(547.58 358.2) scale(1 1.12)" text-anchor="middle" class="t">0</text>
<text transform="translate(575.51 358.2) scale(1 1.12)" text-anchor="middle" class="t">20</text>
<text transform="translate(603.44 358.2) scale(1 1.12)" text-anchor="middle" class="t">40</text>
<text transform="translate(631.36 358.2) scale(1 1.12)" text-anchor="middle" class="t">60</text>
<text transform="translate(537.9 350.85) scale(1 1.12)" text-anchor="end" class="t">-2</text>
<text transform="translate(537.9 330.9) scale(1 1.12)" text-anchor="end" class="t">-1</text>
<text transform="translate(537.9 310.95) scale(1 1.12)" text-anchor="end" class="t">0</text>
<text transform="translate(537.9 291) scale(1 1.12)" text-anchor="end" class="t">1</text>
<text transform="translate(537.9 271.05) scale(1 1.12)" text-anchor="end" class="t">2</text>
<text x="597.85" y="261.2" text-anchor="middle">Cluster 12 - 109 probesets</text>
<clipPath id="c88_383"><rect x="88.5" y="383.35" width="114.9" height="79.25"/></clipPath>
<g clip-path="url(#c88_383)" stroke="#2424b4" stroke-width="0.9" fill="none">
<path d="M95.51 431.1V448.93M94.06 431.1H96.96M94.06 448.93H96.96M95.86 419.61V439.42M94.41 419.61H97.31M94.41 439.42H97.31M96.21 408.91V426.74M94.76 408.91H97.66M94.76 426.74H97.66M96.56 403.56V419.41M95.11 403.56H98.01M95.11 419.41H98.01M96.91 398.01V413.86M95.46 398.01H98.36M95.46 413.86H98.36M98.31 383.15V406.93M96.86 383.15H99.76M96.86 406.93H99.76M101.11 393.45V411.29M99.66 393.45H102.56M99.66 411.29H102.56M102.51 400.79V416.64M101.06 400.79H103.96M101.06 416.64H103.96M103.21 404.35V420.2M101.76 404.35H104.66M101.76 420.2H104.66M103.91 407.12V422.98M102.46 407.12H105.36M102.46 422.98H105.36M105.31 402.57V418.42M103.86 402.57H106.76M103.86 418.42H106.76M106.72 404.35V420.2M105.27 404.35H108.17M105.27 420.2H108.17M112.32 426.34V453.68M110.87 426.34H113.77M110.87 453.68H113.77M120.73 440.21V461.21M119.28 440.21H122.18M119.28 461.21H122.18M137.54 429.71V451.11M136.09 429.71H138.99M136.09 451.11H138.99M162.76 423.77V445.96M161.31 423.77H164.21M161.31 445.96H164.21M196.39 441.8V460.02M194.94 441.8H197.84M194.94 460.02H197.84" stroke="#3232c0" stroke-width="0.9"/>
<polyline points="95.51,440.01 95.86,429.51 96.21,417.82 96.56,411.48 96.91,405.94 98.31,395.04 101.11,402.37 102.51,408.71 103.21,412.28 103.91,415.05 105.31,410.49 106.72,412.28 112.32,440.01 120.73,450.71 137.54,440.41 162.76,434.86 196.39,450.91"/>
<path d="M95.51 440.01h0M95.86 429.51h0M96.21 417.82h0M96.56 411.48h0M96.91 405.94h0M98.31 395.04h0M101.11 402.37h0M102.51 408.71h0M103.21 412.28h0M103.91 415.05h0M105.31 410.49h0M106.72 412.28h0M112.32 440.01h0M120.73 450.71h0M137.54 440.41h0M162.76 434.86h0M196.39 450.91h0" stroke-width="2.2" stroke-linecap="round"/>
</g>
<path d="M95.51 462.6v-2M95.51 383.35v2M123.53 462.6v-2M123.53 383.35v2M151.55 462.6v-2M151.55 383.35v2M179.58 462.6v-2M179.58 383.35v2M88.5 462.6h2M203.4 462.6h-2M88.5 442.79h2M203.4 442.79h-2M88.5 422.98h2M203.4 422.98h-2M88.5 403.16h2M203.4 403.16h-2M88.5 383.35h2M203.4 383.35h-2" stroke="#444" stroke-width="0.9" fill="none"/>
<rect x="88.5" y="383.35" width="114.9" height="79.25" stroke="#444" stroke-width="1" fill="none"/>
<text transform="translate(95.51 473.5) scale(1 1.12)" text-anchor="middle" class="t">0</text>
<text transform="translate(123.53 473.5) scale(1 1.12)" text-anchor="middle" class="t">20</text>
<text transform="translate(151.55 473.5) scale(1 1.12)" text-anchor="middle" class="t">40</text>
<text transform="translate(179.58 473.5) scale(1 1.12)" text-anchor="middle" class="t">60</text>
<text transform="translate(85.8 466.15) scale(1 1.12)" text-anchor="end" class="t">-2</text>
<text transform="translate(85.8 446.34) scale(1 1.12)" text-anchor="end" class="t">-1</text>
<text transform="translate(85.8 426.53) scale(1 1.12)" text-anchor="end" class="t">0</text>
<text transform="translate(85.8 406.71) scale(1 1.12)" text-anchor="end" class="t">1</text>
<text transform="translate(85.8 386.9) scale(1 1.12)" text-anchor="end" class="t">2</text>
<text x="145.95" y="377.05" text-anchor="middle">Cluster 13 - 58 probesets</text>
<clipPath id="c239_383"><rect x="239.5" y="383.35" width="114.8" height="79.25"/></clipPath>
<g clip-path="url(#c239_383)" stroke="#2424b4" stroke-width="0.9" fill="none">
<path d="M246.5 418.62V442.39M245.05 418.62H247.95M245.05 442.39H247.95M246.85 374.24V394.05M245.4 374.24H248.3M245.4 394.05H248.3M247.2 402.17V420M245.75 402.17H248.65M245.75 420H248.65M247.55 395.24V411.09M246.1 395.24H249M246.1 411.09H249M247.9 390.88V406.73M246.45 390.88H249.35M246.45 406.73H249.35M249.3 391.87V403.76M247.85 391.87H250.75M247.85 403.76H250.75M252.1 406.93V424.76M250.65 406.93H253.55M250.65 424.76H253.55M253.5 410.69V426.54M252.05 410.69H254.95M252.05 426.54H254.95M254.2 416.24V432.09M252.75 416.24H255.65M252.75 432.09H255.65M254.9 415.25V431.1M253.45 415.25H256.35M253.45 431.1H256.35M256.3 418.02V433.87M254.85 418.02H257.75M254.85 433.87H257.75M257.7 414.46V430.31M256.25 414.46H259.15M256.25 430.31H259.15M263.3 428.52V453.09M261.85 428.52H264.75M261.85 453.09H264.75M271.7 435.06V454.87M270.25 435.06H273.15M270.25 454.87H273.15M288.5 424.96V446.75M287.05 424.96H289.95M287.05 446.75H289.95M313.7 419.41V441.6M312.25 419.41H315.15M312.25 441.6H315.15M347.3 434.07V451.5M345.85 434.07H348.75M345.85 451.5H348.75" stroke="#3232c0" stroke-width="0.9"/>
<polyline points="246.5,430.5 246.85,384.14 247.2,411.09 247.55,403.16 247.9,398.8 249.3,397.81 252.1,415.84 253.5,418.62 254.2,424.16 254.9,423.17 256.3,425.95 257.7,422.38 263.3,440.81 271.7,444.97 288.5,435.85 313.7,430.5 347.3,442.79"/>
<path d="M246.5 430.5h0M246.85 384.14h0M247.2 411.09h0M247.55 403.16h0M247.9 398.8h0M249.3 397.81h0M252.1 415.84h0M253.5 418.62h0M254.2 424.16h0M254.9 423.17h0M256.3 425.95h0M257.7 422.38h0M263.3 440.81h0M271.7 444.97h0M288.5 435.85h0M313.7 430.5h0M347.3 442.79h0" stroke-width="2.2" stroke-linecap="round"/>
</g>
<path d="M246.5 462.6v-2M246.5 383.35v2M274.5 462.6v-2M274.5 383.35v2M302.5 462.6v-2M302.5 383.35v2M330.5 462.6v-2M330.5 383.35v2M239.5 462.6h2M354.3 462.6h-2M239.5 442.79h2M354.3 442.79h-2M239.5 422.98h2M354.3 422.98h-2M239.5 403.16h2M354.3 403.16h-2M239.5 383.35h2M354.3 383.35h-2" stroke="#444" stroke-width="0.9" fill="none"/>
<rect x="239.5" y="383.35" width="114.8" height="79.25" stroke="#444" stroke-width="1" fill="none"/>
<text transform="translate(246.5 473.5) scale(1 1.12)" text-anchor="middle" class="t">0</text>
<text transform="translate(274.5 473.5) scale(1 1.12)" text-anchor="middle" class="t">20</text>
<text transform="translate(302.5 473.5) scale(1 1.12)" text-anchor="middle" class="t">40</text>
<text transform="translate(330.5 473.5) scale(1 1.12)" text-anchor="middle" class="t">60</text>
<text transform="translate(236.8 466.15) scale(1 1.12)" text-anchor="end" class="t">-2</text>
<text transform="translate(236.8 446.34) scale(1 1.12)" text-anchor="end" class="t">-1</text>
<text transform="translate(236.8 426.53) scale(1 1.12)" text-anchor="end" class="t">0</text>
<text transform="translate(236.8 406.71) scale(1 1.12)" text-anchor="end" class="t">1</text>
<text transform="translate(236.8 386.9) scale(1 1.12)" text-anchor="end" class="t">2</text>
<text x="296.9" y="377.05" text-anchor="middle">Cluster 14 - 51 probesets</text>
<clipPath id="c94_541"><rect x="94.6" y="541.2" width="244.7" height="180.2"/></clipPath>
<g clip-path="url(#c94_541)" stroke="#2424b4" stroke-width="0.9" fill="none">
<path d="M109.52 658.33V696.17M107.02 658.33H112.02M107.02 696.17H112.02M110.27 638.06V678.6M107.77 638.06H112.77M107.77 678.6H112.77M111.01 624.54V660.58M108.51 624.54H113.51M108.51 660.58H113.51M111.76 638.06V674.1M109.26 638.06H114.26M109.26 674.1H114.26M112.5 623.19V650.22M110 623.19H115M110 650.22H115M115.49 581.75V635.81M112.99 581.75H117.99M112.99 635.81H117.99M121.46 558.32V614.18M118.96 558.32H123.96M118.96 614.18H123.96M124.44 547.06V583.1M121.94 547.06H126.94M121.94 583.1H126.94M125.93 553.81V598.86M123.43 553.81H128.43M123.43 598.86H128.43M127.43 564.63V620.49M124.93 564.63H129.93M124.93 620.49H129.93M130.41 571.83V614.18M127.91 571.83H132.91M127.91 614.18H132.91M133.39 571.83V614.18M130.89 571.83H135.89M130.89 614.18H135.89M145.33 632.65V676.8M142.83 632.65H147.83M142.83 676.8H147.83M163.24 659.23V698.88M160.74 659.23H165.74M160.74 698.88H165.74M199.05 648.87V678.6M196.55 648.87H201.55M196.55 678.6H201.55M252.76 645.72V684.46M250.26 645.72H255.26M250.26 684.46H255.26M324.38 657.43V687.16M321.88 657.43H326.88M321.88 687.16H326.88" stroke="#3232c0" stroke-width="0.9"/>
<polyline points="109.52,677.25 110.27,658.33 111.01,642.56 111.76,656.08 112.5,636.71 115.49,608.78 121.46,586.25 124.44,565.08 125.93,576.34 127.43,592.56 130.41,593.01 133.39,593.01 145.33,654.73 163.24,679.05 199.05,663.74 252.76,665.09 324.38,672.3"/>
<path d="M109.52 677.25h0M110.27 658.33h0M111.01 642.56h0M111.76 656.08h0M112.5 636.71h0M115.49 608.78h0M121.46 586.25h0M124.44 565.08h0M125.93 576.34h0M127.43 592.56h0M130.41 593.01h0M133.39 593.01h0M145.33 654.73h0M163.24 679.05h0M199.05 663.74h0M252.76 665.09h0M324.38 672.3h0" stroke-width="2.2" stroke-linecap="round"/>
</g>
<path d="M109.52 721.4v-3.3M109.52 541.2v3.3M139.36 721.4v-3.3M139.36 541.2v3.3M169.2 721.4v-3.3M169.2 541.2v3.3M199.05 721.4v-3.3M199.05 541.2v3.3M228.89 721.4v-3.3M228.89 541.2v3.3M258.73 721.4v-3.3M258.73 541.2v3.3M288.57 721.4v-3.3M288.57 541.2v3.3M318.41 721.4v-3.3M318.41 541.2v3.3M94.6 721.4h3.3M339.3 721.4h-3.3M94.6 698.88h3.3M339.3 698.88h-3.3M94.6 676.35h3.3M339.3 676.35h-3.3M94.6 653.83h3.3M339.3 653.83h-3.3M94.6 631.3h3.3M339.3 631.3h-3.3M94.6 608.78h3.3M339.3 608.78h-3.3M94.6 586.25h3.3M339.3 586.25h-3.3M94.6 563.73h3.3M339.3 563.73h-3.3M94.6 541.2h3.3M339.3 541.2h-3.3" stroke="#444" stroke-width="0.9" fill="none"/>
<rect x="94.6" y="541.2" width="244.7" height="180.2" stroke="#444" stroke-width="1" fill="none"/>
<text transform="translate(109.52 732.4) scale(1 1.12)" text-anchor="middle" class="t">0</text>
<text transform="translate(139.36 732.4) scale(1 1.12)" text-anchor="middle" class="t">10</text>
<text transform="translate(169.2 732.4) scale(1 1.12)" text-anchor="middle" class="t">20</text>
<text transform="translate(199.05 732.4) scale(1 1.12)" text-anchor="middle" class="t">30</text>
<text transform="translate(228.89 732.4) scale(1 1.12)" text-anchor="middle" class="t">40</text>
<text transform="translate(258.73 732.4) scale(1 1.12)" text-anchor="middle" class="t">50</text>
<text transform="translate(288.57 732.4) scale(1 1.12)" text-anchor="middle" class="t">60</text>
<text transform="translate(318.41 732.4) scale(1 1.12)" text-anchor="middle" class="t">70</text>
<text transform="translate(91.9 724.95) scale(1 1.12)" text-anchor="end" class="t">-2</text>
<text transform="translate(91.9 702.42) scale(1 1.12)" text-anchor="end" class="t">-1.5</text>
<text transform="translate(91.9 679.9) scale(1 1.12)" text-anchor="end" class="t">-1</text>
<text transform="translate(91.9 657.38) scale(1 1.12)" text-anchor="end" class="t">-0.5</text>
<text transform="translate(91.9 634.85) scale(1 1.12)" text-anchor="end" class="t">0</text>
<text transform="translate(91.9 612.33) scale(1 1.12)" text-anchor="end" class="t">0.5</text>
<text transform="translate(91.9 589.8) scale(1 1.12)" text-anchor="end" class="t">1</text>
<text transform="translate(91.9 567.27) scale(1 1.12)" text-anchor="end" class="t">1.5</text>
<text transform="translate(91.9 544.75) scale(1 1.12)" text-anchor="end" class="t">2</text>
<text x="216.95" y="534.9" text-anchor="middle">Cluster 1 - 51 probesets</text>
<clipPath id="c416_541"><rect x="416.5" y="541.2" width="244" height="180.2"/></clipPath>
<g clip-path="url(#c416_541)" stroke="#2424b4" stroke-width="0.9" fill="none">
<path d="M431.38 584.45V613.28M428.88 584.45H433.88M428.88 613.28H433.88M432.12 611.03V665.09M429.62 611.03H434.62M429.62 665.09H434.62M432.87 624.54V665.09M430.37 624.54H435.37M430.37 665.09H435.37M433.61 635.81V671.85M431.11 635.81H436.11M431.11 671.85H436.11M434.35 602.02V656.08M431.85 602.02H436.85M431.85 656.08H436.85M437.33 668.24V708.79M434.83 668.24H439.83M434.83 708.79H439.83M443.28 654.73V695.27M440.78 654.73H445.78M440.78 695.27H445.78M446.26 644.82V676.35M443.76 644.82H448.76M443.76 676.35H448.76M447.74 649.32V680.86M445.24 649.32H450.24M445.24 680.86H450.24M449.23 640.31V671.85M446.73 640.31H451.73M446.73 671.85H451.73M452.21 635.81V667.34M449.71 635.81H454.71M449.71 667.34H454.71M455.18 649.32V685.36M452.68 649.32H457.68M452.68 685.36H457.68M467.09 572.74V628.6M464.59 572.74H469.59M464.59 628.6H469.59M484.94 537.6V594.36M482.44 537.6H487.44M482.44 594.36H487.44M520.65 552.46V606.52M518.15 552.46H523.15M518.15 606.52H523.15M574.21 568.68V629.05M571.71 568.68H576.71M571.71 629.05H576.71M645.62 536.7V586.25M643.12 536.7H648.12M643.12 586.25H648.12" stroke="#3232c0" stroke-width="0.9"/>
<polyline points="431.38,598.86 432.12,638.06 432.87,644.82 433.61,653.83 434.35,629.05 437.33,688.51 443.28,675 446.26,660.58 447.74,665.09 449.23,656.08 452.21,651.57 455.18,667.34 467.09,600.67 484.94,565.98 520.65,579.49 574.21,598.86 645.62,561.47"/>
<path d="M431.38 598.86h0M432.12 638.06h0M432.87 644.82h0M433.61 653.83h0M434.35 629.05h0M437.33 688.51h0M443.28 675h0M446.26 660.58h0M447.74 665.09h0M449.23 656.08h0M452.21 651.57h0M455.18 667.34h0M467.09 600.67h0M484.94 565.98h0M520.65 579.49h0M574.21 598.86h0M645.62 561.47h0" stroke-width="2.2" stroke-linecap="round"/>
</g>
<path d="M431.38 721.4v-3.3M431.38 541.2v3.3M461.13 721.4v-3.3M461.13 541.2v3.3M490.89 721.4v-3.3M490.89 541.2v3.3M520.65 721.4v-3.3M520.65 541.2v3.3M550.4 721.4v-3.3M550.4 541.2v3.3M580.16 721.4v-3.3M580.16 541.2v3.3M609.91 721.4v-3.3M609.91 541.2v3.3M639.67 721.4v-3.3M639.67 541.2v3.3M416.5 721.4h3.3M660.5 721.4h-3.3M416.5 698.88h3.3M660.5 698.88h-3.3M416.5 676.35h3.3M660.5 676.35h-3.3M416.5 653.83h3.3M660.5 653.83h-3.3M416.5 631.3h3.3M660.5 631.3h-3.3M416.5 608.78h3.3M660.5 608.78h-3.3M416.5 586.25h3.3M660.5 586.25h-3.3M416.5 563.73h3.3M660.5 563.73h-3.3M416.5 541.2h3.3M660.5 541.2h-3.3" stroke="#444" stroke-width="0.9" fill="none"/>
<rect x="416.5" y="541.2" width="244" height="180.2" stroke="#444" stroke-width="1" fill="none"/>
<text transform="translate(431.38 732.4) scale(1 1.12)" text-anchor="middle" class="t">0</text>
<text transform="translate(461.13 732.4) scale(1 1.12)" text-anchor="middle" class="t">10</text>
<text transform="translate(490.89 732.4) scale(1 1.12)" text-anchor="middle" class="t">20</text>
<text transform="translate(520.65 732.4) scale(1 1.12)" text-anchor="middle" class="t">30</text>
<text transform="translate(550.4 732.4) scale(1 1.12)" text-anchor="middle" class="t">40</text>
<text transform="translate(580.16 732.4) scale(1 1.12)" text-anchor="middle" class="t">50</text>
<text transform="translate(609.91 732.4) scale(1 1.12)" text-anchor="middle" class="t">60</text>
<text transform="translate(639.67 732.4) scale(1 1.12)" text-anchor="middle" class="t">70</text>
<text transform="translate(413.8 724.95) scale(1 1.12)" text-anchor="end" class="t">-2</text>
<text transform="translate(413.8 702.42) scale(1 1.12)" text-anchor="end" class="t">-1.5</text>
<text transform="translate(413.8 679.9) scale(1 1.12)" text-anchor="end" class="t">-1</text>
<text transform="translate(413.8 657.38) scale(1 1.12)" text-anchor="end" class="t">-0.5</text>
<text transform="translate(413.8 634.85) scale(1 1.12)" text-anchor="end" class="t">0</text>
<text transform="translate(413.8 612.33) scale(1 1.12)" text-anchor="end" class="t">0.5</text>
<text transform="translate(413.8 589.8) scale(1 1.12)" text-anchor="end" class="t">1</text>
<text transform="translate(413.8 567.27) scale(1 1.12)" text-anchor="end" class="t">1.5</text>
<text transform="translate(413.8 544.75) scale(1 1.12)" text-anchor="end" class="t">2</text>
<text x="538.5" y="534.9" text-anchor="middle">Cluster 2 - 58 probesets</text>
<clipPath id="c94_791"><rect x="94.6" y="791" width="244.7" height="179.3"/></clipPath>
<g clip-path="url(#c94_791)" stroke="#2424b4" stroke-width="0.9" fill="none">
<path d="M109.52 826.41V866.75M107.02 826.41H112.02M107.02 866.75H112.02M110.27 827.76V924.58M107.77 827.76H112.77M107.77 924.58H112.77M111.01 862.72V898.58M108.51 862.72H113.51M108.51 898.58H113.51M111.76 823.27V882.44M109.26 823.27H114.26M109.26 882.44H114.26M112.5 879.31V919.65M110 879.31H115M110 919.65H115M115.49 896.34V946.54M112.99 896.34H117.99M112.99 946.54H117.99M121.46 907.99V953.71M118.96 907.99H123.96M118.96 953.71H123.96M124.44 897.68V938.03M121.94 897.68H126.94M121.94 938.03H126.94M125.93 890.51V926.37M123.43 890.51H128.43M123.43 926.37H128.43M127.43 884.68V925.03M124.93 884.68H129.93M124.93 925.03H129.93M130.41 888.72V924.58M127.91 888.72H132.91M127.91 924.58H132.91M133.39 890.06V934.89M130.89 890.06H135.89M130.89 934.89H135.89M145.33 831.34V902.17M142.83 831.34H147.83M142.83 902.17H147.83M163.24 806.24V871.68M160.74 806.24H165.74M160.74 871.68H165.74M199.05 805.34V865.41M196.55 805.34H201.55M196.55 865.41H201.55M252.76 801.76V862.72M250.26 801.76H255.26M250.26 862.72H255.26M324.38 790.1V850.17M321.88 790.1H326.88M321.88 850.17H326.88" stroke="#3232c0" stroke-width="0.9"/>
<polyline points="109.52,846.58 110.27,876.17 111.01,880.65 111.76,852.86 112.5,899.48 115.49,921.44 121.46,930.85 124.44,917.85 125.93,908.44 127.43,904.86 130.41,906.65 133.39,912.48 145.33,866.75 163.24,838.96 199.05,835.38 252.76,832.24 324.38,820.14"/>
<path d="M109.52 846.58h0M110.27 876.17h0M111.01 880.65h0M111.76 852.86h0M112.5 899.48h0M115.49 921.44h0M121.46 930.85h0M124.44 917.85h0M125.93 908.44h0M127.43 904.86h0M130.41 906.65h0M133.39 912.48h0M145.33 866.75h0M163.24 838.96h0M199.05 835.38h0M252.76 832.24h0M324.38 820.14h0" stroke-width="2.2" stroke-linecap="round"/>
</g>
<path d="M109.52 970.3v-3.3M109.52 791v3.3M139.36 970.3v-3.3M139.36 791v3.3M169.2 970.3v-3.3M169.2 791v3.3M199.05 970.3v-3.3M199.05 791v3.3M228.89 970.3v-3.3M228.89 791v3.3M258.73 970.3v-3.3M258.73 791v3.3M288.57 970.3v-3.3M288.57 791v3.3M318.41 970.3v-3.3M318.41 791v3.3M94.6 970.3h3.3M339.3 970.3h-3.3M94.6 947.89h3.3M339.3 947.89h-3.3M94.6 925.48h3.3M339.3 925.48h-3.3M94.6 903.06h3.3M339.3 903.06h-3.3M94.6 880.65h3.3M339.3 880.65h-3.3M94.6 858.24h3.3M339.3 858.24h-3.3M94.6 835.83h3.3M339.3 835.83h-3.3M94.6 813.41h3.3M339.3 813.41h-3.3M94.6 791h3.3M339.3 791h-3.3" stroke="#444" stroke-width="0.9" fill="none"/>
<rect x="94.6" y="791" width="244.7" height="179.3" stroke="#444" stroke-width="1" fill="none"/>
<text transform="translate(109.52 981.3) scale(1 1.12)" text-anchor="middle" class="t">0</text>
<text transform="translate(139.36 981.3) scale(1 1.12)" text-anchor="middle" class="t">10</text>
<text transform="translate(169.2 981.3) scale(1 1.12)" text-anchor="middle" class="t">20</text>
<text transform="translate(199.05 981.3) scale(1 1.12)" text-anchor="middle" class="t">30</text>
<text transform="translate(228.89 981.3) scale(1 1.12)" text-anchor="middle" class="t">40</text>
<text transform="translate(258.73 981.3) scale(1 1.12)" text-anchor="middle" class="t">50</text>
<text transform="translate(288.57 981.3) scale(1 1.12)" text-anchor="middle" class="t">60</text>
<text transform="translate(318.41 981.3) scale(1 1.12)" text-anchor="middle" class="t">70</text>
<text transform="translate(91.9 973.85) scale(1 1.12)" text-anchor="end" class="t">-2</text>
<text transform="translate(91.9 951.44) scale(1 1.12)" text-anchor="end" class="t">-1.5</text>
<text transform="translate(91.9 929.02) scale(1 1.12)" text-anchor="end" class="t">-1</text>
<text transform="translate(91.9 906.61) scale(1 1.12)" text-anchor="end" class="t">-0.5</text>
<text transform="translate(91.9 884.2) scale(1 1.12)" text-anchor="end" class="t">0</text>
<text transform="translate(91.9 861.79) scale(1 1.12)" text-anchor="end" class="t">0.5</text>
<text transform="translate(91.9 839.38) scale(1 1.12)" text-anchor="end" class="t">1</text>
<text transform="translate(91.9 816.96) scale(1 1.12)" text-anchor="end" class="t">1.5</text>
<text transform="translate(91.9 794.55) scale(1 1.12)" text-anchor="end" class="t">2</text>
<text x="216.95" y="784.7" text-anchor="middle">Cluster 3 - 342 probesets</text>
<clipPath id="c416_791"><rect x="416.5" y="791" width="244" height="179.3"/></clipPath>
<g clip-path="url(#c416_791)" stroke="#2424b4" stroke-width="0.9" fill="none">
<path d="M431.38 892.75V933.1M428.88 892.75H433.88M428.88 933.1H433.88M432.12 849.27V889.62M429.62 849.27H434.62M429.62 889.62H434.62M432.87 867.2V916.51M430.37 867.2H435.37M430.37 916.51H435.37M433.61 829.1V923.23M431.11 829.1H436.11M431.11 923.23H436.11M434.35 846.13V881.99M431.85 846.13H436.85M431.85 881.99H436.85M437.33 796.83V886.48M434.83 796.83H439.83M434.83 886.48H439.83M443.28 807.59V868.55M440.78 807.59H445.78M440.78 868.55H445.78M446.26 809.83V863.62M443.76 809.83H448.76M443.76 863.62H448.76M447.74 819.24V864.06M445.24 819.24H450.24M445.24 864.06H450.24M449.23 838.51V874.37M446.73 838.51H451.73M446.73 874.37H451.73M452.21 846.13V881.99M449.71 846.13H454.71M449.71 881.99H454.71M455.18 825.07V880.65M452.68 825.07H457.68M452.68 880.65H457.68M467.09 872.13V942.96M464.59 872.13H469.59M464.59 942.96H469.59M484.94 904.41V957.3M482.44 904.41H487.44M482.44 957.3H487.44M520.65 886.48V937.58M518.15 886.48H523.15M518.15 937.58H523.15M574.21 884.68V934.89M571.71 884.68H576.71M571.71 934.89H576.71M645.62 916.51V962.23M643.12 916.51H648.12M643.12 962.23H648.12" stroke="#3232c0" stroke-width="0.9"/>
<polyline points="431.38,912.92 432.12,869.44 432.87,891.86 433.61,876.17 434.35,864.06 437.33,841.65 443.28,838.07 446.26,836.72 447.74,841.65 449.23,856.44 452.21,864.06 455.18,852.86 467.09,907.55 484.94,930.85 520.65,912.03 574.21,909.79 645.62,939.37"/>
<path d="M431.38 912.92h0M432.12 869.44h0M432.87 891.86h0M433.61 876.17h0M434.35 864.06h0M437.33 841.65h0M443.28 838.07h0M446.26 836.72h0M447.74 841.65h0M449.23 856.44h0M452.21 864.06h0M455.18 852.86h0M467.09 907.55h0M484.94 930.85h0M520.65 912.03h0M574.21 909.79h0M645.62 939.37h0" stroke-width="2.2" stroke-linecap="round"/>
</g>
<path d="M431.38 970.3v-3.3M431.38 791v3.3M461.13 970.3v-3.3M461.13 791v3.3M490.89 970.3v-3.3M490.89 791v3.3M520.65 970.3v-3.3M520.65 791v3.3M550.4 970.3v-3.3M550.4 791v3.3M580.16 970.3v-3.3M580.16 791v3.3M609.91 970.3v-3.3M609.91 791v3.3M639.67 970.3v-3.3M639.67 791v3.3M416.5 970.3h3.3M660.5 970.3h-3.3M416.5 947.89h3.3M660.5 947.89h-3.3M416.5 925.48h3.3M660.5 925.48h-3.3M416.5 903.06h3.3M660.5 903.06h-3.3M416.5 880.65h3.3M660.5 880.65h-3.3M416.5 858.24h3.3M660.5 858.24h-3.3M416.5 835.83h3.3M660.5 835.83h-3.3M416.5 813.41h3.3M660.5 813.41h-3.3M416.5 791h3.3M660.5 791h-3.3" stroke="#444" stroke-width="0.9" fill="none"/>
<rect x="416.5" y="791" width="244" height="179.3" stroke="#444" stroke-width="1" fill="none"/>
<text transform="translate(431.38 981.3) scale(1 1.12)" text-anchor="middle" class="t">0</text>
<text transform="translate(461.13 981.3) scale(1 1.12)" text-anchor="middle" class="t">10</text>
<text transform="translate(490.89 981.3) scale(1 1.12)" text-anchor="middle" class="t">20</text>
<text transform="translate(520.65 981.3) scale(1 1.12)" text-anchor="middle" class="t">30</text>
<text transform="translate(550.4 981.3) scale(1 1.12)" text-anchor="middle" class="t">40</text>
<text transform="translate(580.16 981.3) scale(1 1.12)" text-anchor="middle" class="t">50</text>
<text transform="translate(609.91 981.3) scale(1 1.12)" text-anchor="middle" class="t">60</text>
<text transform="translate(639.67 981.3) scale(1 1.12)" text-anchor="middle" class="t">70</text>
<text transform="translate(413.8 973.85) scale(1 1.12)" text-anchor="end" class="t">-2</text>
<text transform="translate(413.8 951.44) scale(1 1.12)" text-anchor="end" class="t">-1.5</text>
<text transform="translate(413.8 929.02) scale(1 1.12)" text-anchor="end" class="t">-1</text>
<text transform="translate(413.8 906.61) scale(1 1.12)" text-anchor="end" class="t">-0.5</text>
<text transform="translate(413.8 884.2) scale(1 1.12)" text-anchor="end" class="t">0</text>
<text transform="translate(413.8 861.79) scale(1 1.12)" text-anchor="end" class="t">0.5</text>
<text transform="translate(413.8 839.38) scale(1 1.12)" text-anchor="end" class="t">1</text>
<text transform="translate(413.8 816.96) scale(1 1.12)" text-anchor="end" class="t">1.5</text>
<text transform="translate(413.8 794.55) scale(1 1.12)" text-anchor="end" class="t">2</text>
<text x="538.5" y="784.7" text-anchor="middle">Cluster 4 - 768 probesets</text>
<line x1="63.5" y1="425.8" x2="63.5" y2="93" stroke="#666" stroke-width="1"/><path d="M63.5 88L60.2 96L63.5 93.5L66.8 96Z" fill="#000"/>
<line x1="154" y1="488.4" x2="581" y2="488.4" stroke="#555" stroke-width="1"/><path d="M586 488.4L578 485.1L580.5 488.4L578 491.7Z" fill="#000"/>
<line x1="60.6" y1="921.6" x2="60.6" y2="588.4" stroke="#666" stroke-width="1"/><path d="M60.6 583.4L57.3 591.4L60.6 588.9L63.9 591.4Z" fill="#000"/>
<line x1="160" y1="996.4" x2="587" y2="996.4" stroke="#555" stroke-width="1"/><path d="M592 996.4L584 993.1L586.5 996.4L584 999.7Z" fill="#000"/>
<text x="59.6" y="256.1" transform="rotate(-90 59.6 256.1)" text-anchor="middle" class="b" textLength="114" lengthAdjust="spacingAndGlyphs">zscore(expression values)</text>
<text x="55.6" y="751.4" transform="rotate(-90 55.6 751.4)" text-anchor="middle" class="b" textLength="112.7" lengthAdjust="spacingAndGlyphs">zscore(expression values)</text>
<text x="374.5" y="499.7" text-anchor="middle" class="b">Time (hr)</text>
<text x="380" y="1008" text-anchor="middle" class="b">Time (hr)</text>
<text x="26.7" y="259.8" text-anchor="middle" class="s">(a)</text>
<text x="26" y="754.6" text-anchor="middle" class="s">(b)</text>
</svg></body></html>
